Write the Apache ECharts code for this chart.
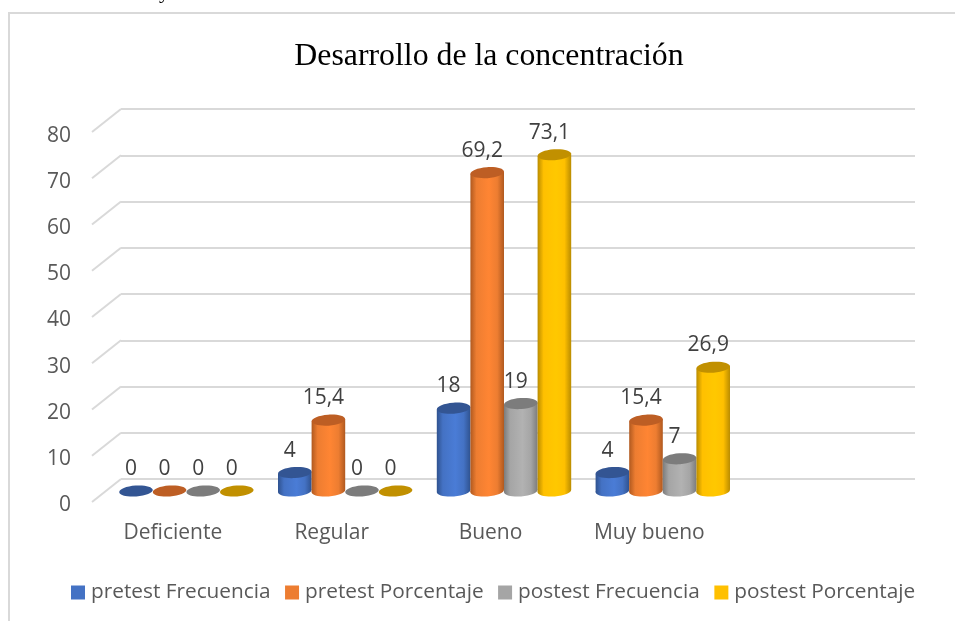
<!DOCTYPE html>
<html>
<head>
<meta charset="utf-8">
<style>html,body{margin:0;padding:0;background:#fff}#chart{width:955px;height:621px}</style>
<script src="https://cdn.jsdelivr.net/npm/echarts@6/dist/echarts.min.js"></script>
</head>
<body>
<div id="chart"></div>
<script>
// last category is blank: the original plot leaves one empty slot on the right
const categories = ["Deficiente", "Regular", "Bueno", "Muy bueno", ""];
const preFrecuencia = [0, 4, 18, 4, null];
const prePorcentaje = [0, 15.4, 69.2, 15.4, null];
const postFrecuencia = [0, 0, 19, 7, null];
const postPorcentaje = [0, 0, 73.1, 26.9, null];
const yTicks = [0, 10, 20, 30, 40, 50, 60, 70, 80];

const seriesDefs = [
	{ name: "pretest Frecuencia", data: preFrecuencia, color: "#4472c4", light: "#4a7cd6", dark: "#2f528f", cap: "#335593" },
	{ name: "pretest Porcentaje", data: prePorcentaje, color: "#ed7d31", light: "#ff8533", dark: "#b0591f", cap: "#bd5e24" },
	{ name: "postest Frecuencia", data: postFrecuencia, color: "#a5a5a5", light: "#b2b2b2", dark: "#7c7c7c", cap: "#7c7c7c" },
	{ name: "postest Porcentaje", data: postPorcentaje, color: "#ffc000", light: "#ffc800", dark: "#ba8c00", cap: "#c19000" }
];

const font = "'Open Sans', 'Noto Sans', sans-serif";
const textColor = "#595959";
const gridColor = "#d9d9d9";
const barWidth = 33.6;
const capRy = 5.5;
const tilt = 0.07;

const chart = echarts.init(document.getElementById("chart"));

function bodyFill(def) {
	return {
		type: "linear", x: 0, y: 0, x2: 1, y2: 0,
		colorStops: [
			{ offset: 0, color: def.dark },
			{ offset: 0.18, color: def.color },
			{ offset: 0.55, color: def.light },
			{ offset: 0.8, color: def.color },
			{ offset: 1, color: def.dark }
		]
	};
}

function cylinder(def, index) {
	return (params, api) => {
		const value = api.value(1);
		if (value == null || isNaN(value)) return null;
		const base = api.coord([api.value(0), 0]);
		const top = api.coord([api.value(0), value]);
		const x = base[0] + (index - 1.5) * barWidth;
		const r = barWidth / 2;
		const dy = r * tilt;
		const ellipse = (cy, fill) => ({
			type: "ellipse",
			x: x, y: cy, rotation: tilt,
			shape: { cx: 0, cy: 0, rx: r, ry: capRy },
			style: { fill }
		});
		const children = [];
		if (value > 0) {
			children.push(ellipse(base[1], bodyFill(def)));
			children.push({
				type: "polygon",
				shape: { points: [[x - r, top[1] + dy], [x + r, top[1] - dy], [x + r, base[1] - dy], [x - r, base[1] + dy]] },
				style: { fill: bodyFill(def) }
			});
		}
		children.push(ellipse(top[1], def.cap));
		children.push({
			type: "text",
			x: x - 5, y: top[1] - 22,
			style: {
				text: String(value).replace(".", ","),
				font: "21px " + font, fill: "#404040",
				align: "center", verticalAlign: "middle"
			}
		});
		return { type: "group", children };
	};
}

const barSeries = seriesDefs.map((def, index) => ({
	name: def.name,
	type: "custom",
	xAxisIndex: 1,
	yAxisIndex: 1,
	z: 5,
	itemStyle: { color: def.color },
	data: categories.map((c, i) => [i, def.data[i]]),
	encode: { x: 0, y: 1 },
	renderItem: cylinder(def, index)
}));

// slanted stubs joining each back wall line to the front axis label
const stubSeries = {
	type: "custom",
	xAxisIndex: 0,
	yAxisIndex: 0,
	silent: true,
	legendHoverLink: false,
	z: 1,
	data: yTicks.map(t => [0, t]),
	encode: { x: 0, y: 1 },
	clip: false,
	renderItem: (params, api) => {
		const y = api.coord([0, api.value(1)])[1];
		return {
			type: "line",
			shape: { x1: 121, y1: y, x2: 92, y2: y + 23 },
			style: { stroke: gridColor, lineWidth: 2 }
		};
	}
};

chart.setOption({
	animation: false,
	backgroundColor: "#ffffff",
	title: {
		text: "Desarrollo de la concentración",
		left: 484,
		top: 36,
		textAlign: "center",
		textStyle: { fontFamily: "'Liberation Serif', serif", fontSize: 31.8, fontWeight: "normal", color: "#000000" }
	},
	legend: {
		left: 66,
		top: 577,
		itemWidth: 14,
		itemHeight: 14,
		itemGap: 14.5,
		icon: "rect",
		data: seriesDefs.map(d => d.name),
		textStyle: { fontFamily: font, fontSize: 20.8, color: textColor, padding: [0, 0, 0, 1] }
	},
	graphic: [
		{ type: "polyline", silent: true, shape: { points: [[9, 621], [9, 13], [955, 13]] }, style: { stroke: gridColor, lineWidth: 2, fill: null } },
		// tail of the line of document text above the chart, cut off by the screenshot
		{ type: "text", silent: true, x: 159, y: 3, style: { text: "y", font: "21px 'Liberation Serif', serif", fill: "#000000", verticalAlign: "bottom" } }
	],
	// 0: back wall, 1: bar floor, 2: front labels
	grid: [
		{ left: 121, top: 109, width: 794, height: 370 },
		{ left: 107, top: 123, width: 794, height: 368 },
		{ left: 93.5, top: 136, width: 794, height: 369 }
	],
	xAxis: [
		{ type: "category", gridIndex: 0, data: categories, axisLine: { show: false }, axisTick: { show: false }, axisLabel: { show: false } },
		{ type: "category", gridIndex: 1, data: categories, axisLine: { show: false }, axisTick: { show: false }, axisLabel: { show: false } },
		{
			type: "category", gridIndex: 2, data: categories,
			axisLine: { show: false }, axisTick: { show: false },
			axisLabel: { color: textColor, fontFamily: font, fontSize: 21, margin: 18 }
		}
	],
	yAxis: [
		{ type: "value", gridIndex: 0, min: 0, max: 80, interval: 10, axisLine: { show: false }, axisTick: { show: false }, axisLabel: { show: false }, splitLine: { lineStyle: { color: gridColor, width: 2 } } },
		{ type: "value", gridIndex: 1, min: 0, max: 80, interval: 10, axisLine: { show: false }, axisTick: { show: false }, axisLabel: { show: false }, splitLine: { show: false } },
		{
			type: "value", gridIndex: 2, min: 0, max: 80, interval: 10,
			axisLine: { show: false }, axisTick: { show: false }, splitLine: { show: false },
			axisLabel: { color: textColor, fontFamily: font, fontSize: 21, margin: 22.5 }
		}
	],
	series: [stubSeries, ...barSeries]
});

window.addEventListener("resize", () => chart.resize());
</script>
</body>
</html>
